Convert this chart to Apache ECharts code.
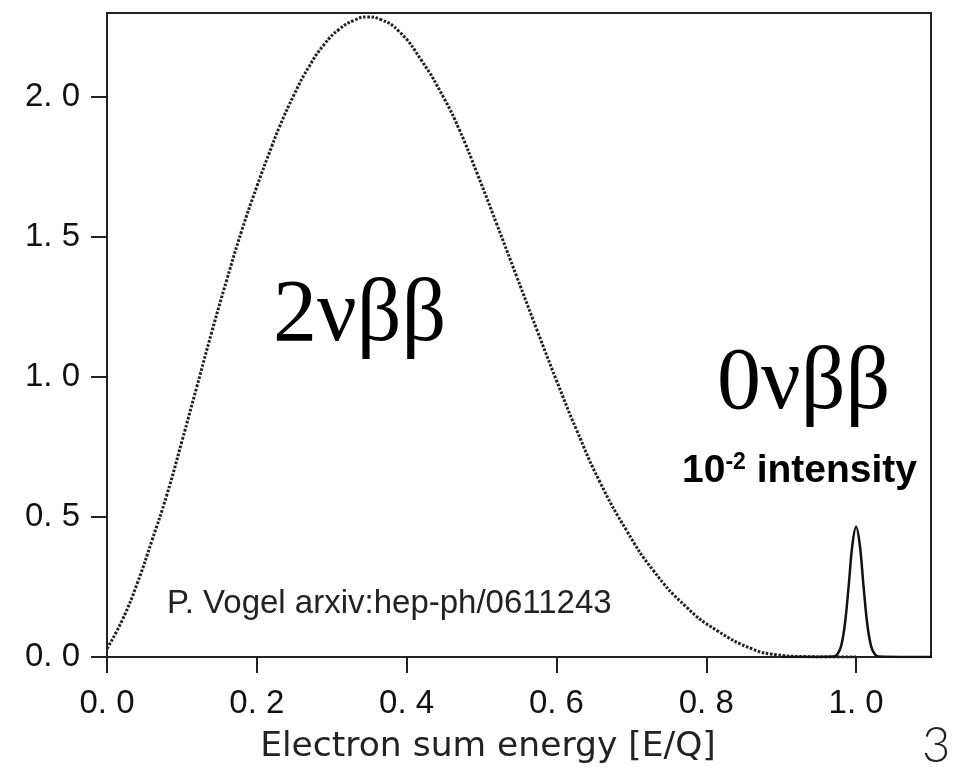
<!DOCTYPE html>
<html>
<head>
<meta charset="utf-8">
<script src="https://cdn.jsdelivr.net/npm/echarts@6/dist/echarts.min.js"></script>
<style>html,body{margin:0;padding:0;background:#fff;}#c{width:971px;height:769px;}</style>
</head>
<body>
<div id="c"></div>
<script>
// 2νββ continuous spectrum
const x2nu = [0, 0.02, 0.04, 0.06, 0.08, 0.10, 0.12, 0.14, 0.16, 0.18, 0.20, 0.22, 0.23, 0.25, 0.27, 0.29, 0.31, 0.33, 0.347, 0.365, 0.39, 0.42, 0.45, 0.47, 0.494, 0.52, 0.547, 0.574, 0.60, 0.627, 0.658, 0.694, 0.729, 0.774, 0.814, 0.862, 0.894, 0.93, 0.97, 1.0];
const y2nu = [0.03, 0.13, 0.26, 0.416, 0.58, 0.77, 0.966, 1.162, 1.348, 1.524, 1.68, 1.824, 1.892, 2.01, 2.11, 2.188, 2.242, 2.274, 2.286, 2.277, 2.234, 2.13, 1.995, 1.885, 1.728, 1.548, 1.358, 1.168, 0.988, 0.81, 0.625, 0.45, 0.31, 0.177, 0.095, 0.028, 0.008, 0.0015, 0, 0];
// 0νββ peak (10^-2 intensity)
const x0nu = [0.9, 0.97, 0.975, 0.98, 0.985, 0.99, 0.995, 1.0, 1.005, 1.01, 1.015, 1.02, 1.025, 1.03, 1.1];
const y0nu = [0, 0.002, 0.01, 0.039, 0.116, 0.251, 0.399, 0.465, 0.399, 0.251, 0.116, 0.039, 0.01, 0.002, 0];
// ticks
const xTicks = [0, 0.2, 0.4, 0.6, 0.8, 1.0];
const xTickLabels = ['0. 0', '0. 2', '0. 4', '0. 6', '0. 8', '1. 0'];
const yTicks = [0, 0.5, 1.0, 1.5, 2.0];
const yTickLabels = ['0. 0', '0. 5', '1. 0', '1. 5', '2. 0'];

function pairs(xs, ys) { return xs.map((x, i) => [x, ys[i]]); }
function lab(ticks, labels) {
  return v => { for (let i = 0; i < ticks.length; i++) if (Math.abs(ticks[i] - v) < 1e-9) return labels[i]; return ''; };
}
const tickFont = "'Liberation Sans', Arial, sans-serif";

const chart = echarts.init(document.getElementById('c'), null, { renderer: 'canvas' });
chart.setOption({
  backgroundColor: '#fff',
  animation: false,
  grid: { left: 107, right: 40, top: 13, bottom: 112, show: true, borderColor: '#222', borderWidth: 2, backgroundColor: 'transparent', outerBoundsMode: 'none' },
  xAxis: {
    type: 'value', min: 0, max: 1.1,
    name: 'Electron sum energy [E/Q]', nameLocation: 'middle', nameGap: 73,
    nameTextStyle: { fontFamily: "'DejaVu Sans', sans-serif", fontSize: 34.5, color: '#222', padding: [0, 62, 0, 0] },
    axisLine: { show: true, onZero: false, lineStyle: { color: '#222', width: 2 } },
    axisTick: { show: true, inside: false, length: 16, lineStyle: { color: '#222', width: 2 }, customValues: xTicks },
    axisLabel: { customValues: xTicks, formatter: lab(xTicks, xTickLabels), margin: 30, fontFamily: tickFont, fontSize: 33, color: '#111' },
    splitLine: { show: false }
  },
  yAxis: {
    type: 'value', min: 0, max: 2.3,
    axisLine: { show: true, onZero: false, lineStyle: { color: '#222', width: 2 } },
    axisTick: { show: true, inside: false, length: 16, lineStyle: { color: '#222', width: 2 }, customValues: yTicks },
    axisLabel: { customValues: yTicks, formatter: lab(yTicks, yTickLabels), margin: 27, fontFamily: tickFont, fontSize: 33, color: '#111' },
    splitLine: { show: false }
  },
  series: [
    { name: '2νββ', type: 'line', data: pairs(x2nu, y2nu), smooth: 0.5, smoothMonotone: null, showSymbol: false, symbol: 'none',
      lineStyle: { color: '#222', width: 3, type: [2.6, 1.6] }, z: 3 },
    { name: '0νββ', type: 'line', data: pairs(x0nu, y0nu), smooth: 0.35, showSymbol: false, symbol: 'none',
      lineStyle: { color: '#111', width: 2.5 }, z: 4 }
  ],
  graphic: [
    { type: 'text', left: 273, top: 273, style: { text: '2νββ', font: "88px 'Liberation Serif', 'DejaVu Serif', serif", fill: '#000' } },
    { type: 'text', left: 717, top: 341, style: { text: '0νββ', font: "88px 'Liberation Serif', 'DejaVu Serif', serif", fill: '#000' } },
    { type: 'text', left: 682, top: 451, style: {
        text: '{b|10}{s|-2}{b| intensity}',
        rich: {
          b: { fontFamily: "'Liberation Sans', Arial, sans-serif", fontWeight: 'bold', fontSize: 39, color: '#000', lineHeight: 40 },
          s: { fontFamily: "'Liberation Sans', Arial, sans-serif", fontWeight: 'bold', fontSize: 23, color: '#000', verticalAlign: 'top', lineHeight: 40, padding: [0, 0, 12, 0] }
        } } },
    { type: 'text', left: 167, top: 587, style: { text: 'P. Vogel arxiv:hep-ph/0611243', font: "33px 'Liberation Sans', Arial, sans-serif", fill: '#222' } },
    { type: 'text', left: 922, top: 722, style: { text: '3', font: "300 49px Lato, 'Liberation Sans', sans-serif", fill: '#222' } }
  ]
});
</script>
</body>
</html>
